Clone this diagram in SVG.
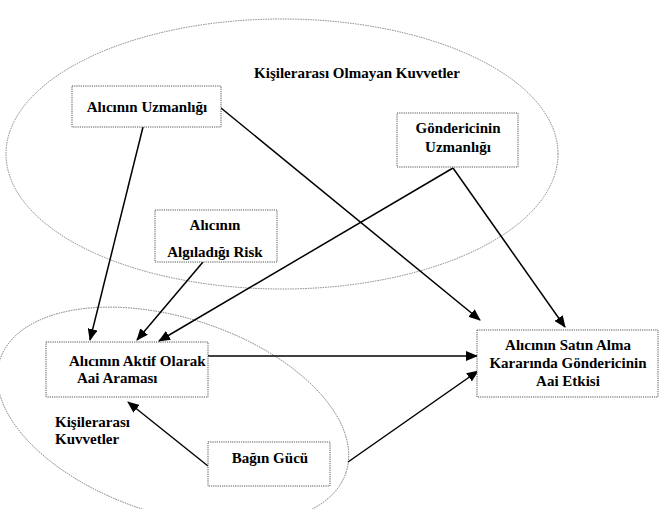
<svg xmlns="http://www.w3.org/2000/svg" width="662" height="509" viewBox="0 0 662 509">
<style>
.bg{fill:#fff}
.ell{fill:none;stroke:#666;stroke-width:0.8;stroke-dasharray:1.5 1}
.box{fill:#fff;stroke:#555;stroke-width:1;stroke-dasharray:1.2 1}
.t{font-family:"Liberation Serif","Times New Roman",serif;font-weight:bold;font-size:15px;fill:#000}
.c{text-anchor:middle}
.ln{stroke:#000;stroke-width:1.5;fill:none;marker-end:url(#ah)}
</style>
<defs>
<marker id="ah" markerWidth="12" markerHeight="10" refX="11" refY="5" orient="auto" markerUnits="userSpaceOnUse">
<path d="M0,0 L12,5 L0,10 z" fill="#000"/>
</marker>
</defs>
<rect class="bg" x="0" y="0" width="662" height="509"/>
<g id="regions">
<ellipse id="kisilerarasi-olmayan" class="ell" cx="282" cy="154" rx="276" ry="135"/>
<ellipse id="kisilerarasi" class="ell" cx="173" cy="416" rx="182" ry="98" transform="rotate(18 173 416)"/>
<text class="t c" x="357" y="78">Kişilerarası Olmayan Kuvvetler</text>
<text class="t" x="55" y="427">Kişilerarası</text>
<text class="t" x="55" y="444">Kuvvetler</text>
</g>
<g id="connectors">
<line class="ln" x1="143" y1="127" x2="90" y2="340"/>
<line class="ln" x1="221" y1="108" x2="480" y2="320"/>
<line class="ln" x1="453" y1="168" x2="565" y2="327"/>
<line class="ln" x1="453" y1="168" x2="159" y2="341"/>
<line class="ln" x1="203" y1="262" x2="137" y2="340"/>
<line class="ln" x1="208" y1="356" x2="477" y2="356"/>
<line class="ln" x1="348" y1="462" x2="478" y2="371"/>
<line class="ln" x1="208" y1="466" x2="128" y2="402"/>
</g>
<g id="alicinin-uzmanligi">
<rect class="box" x="72" y="86" width="149" height="41"/>
<text class="t c" x="147" y="112">Alıcının Uzmanlığı</text>
</g>
<g id="gondericinin-uzmanligi">
<rect class="box" x="397" y="113" width="121" height="54"/>
<text class="t c" x="458" y="133">Göndericinin</text>
<text class="t c" x="458" y="152">Uzmanlığı</text>
</g>
<g id="algiladigi-risk">
<rect class="box" x="155" y="210" width="122" height="52"/>
<text class="t c" x="215" y="230">Alıcının</text>
<text class="t c" x="215" y="257">Algıladığı Risk</text>
</g>
<g id="aktif-arama">
<rect class="box" x="46" y="342" width="162" height="55"/>
<text class="t" x="69" y="366">Alıcının Aktif Olarak</text>
<text class="t" x="77" y="383">Aai Araması</text>
</g>
<g id="satin-alma">
<rect class="box" x="477" y="330" width="181" height="67"/>
<text class="t c" x="568" y="350">Alıcının Satın Alma</text>
<text class="t c" x="568" y="368">Kararında Göndericinin</text>
<text class="t c" x="568" y="386">Aai Etkisi</text>
</g>
<g id="bagin-gucu">
<rect class="box" x="208" y="442" width="122" height="44"/>
<text class="t c" x="270" y="463">Bağın Gücü</text>
</g>
</svg>
